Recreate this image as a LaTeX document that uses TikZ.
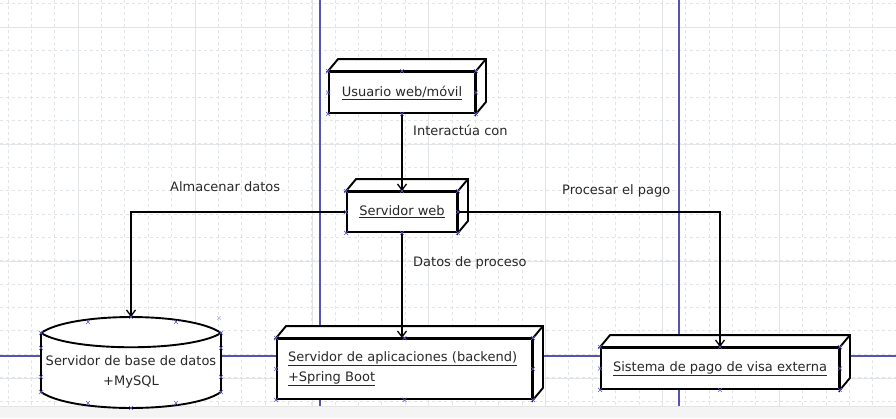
\documentclass[tikz,border=0pt]{standalone}
\usepackage{fontspec}
\setmainfont{DejaVu Sans}
\usetikzlibrary{arrows.meta,calc}
\definecolor{guide}{RGB}{85,85,175}
\definecolor{handlec}{RGB}{90,90,210}
\definecolor{gridc}{RGB}{226,229,231}
\definecolor{txt}{RGB}{40,40,40}
\tikzset{
  box3d/.style={draw=black, line width=1.9pt, fill=white, inner sep=0pt, text=txt,
    font=\fontsize{13}{20}\selectfont},
  conn/.style={draw=black, line width=1.9pt, -{Straight Barb[length=6pt,width=9pt,line width=1.3pt]}},
  lbl/.style={text=txt, anchor=west, inner sep=0pt, font=\fontsize{13}{15}\selectfont},
  guideline/.style={draw=guide, line width=1.3pt},
  gridsolid/.style={draw=gridc, line width=0.8pt},
  griddash/.style={draw=gridc, line width=0.7pt, dash pattern=on 3pt off 3pt},
}
\newcommand{\extrude}[1]{%
  \filldraw[fill=white, draw=black, line width=1.9pt, line join=miter]
    (#1.north west) -- ++(10,-12) -- ($(#1.north east)+(10,-12)$)
    -- ($(#1.south east)+(10,-12)$) -- (#1.south east) -- (#1.north east) -- cycle;
  \draw[line width=1.9pt] (#1.north east) -- ++(10,-12);
}
\newcommand{\hx}[1]{%
  \draw[handlec, line width=0.6pt] ($(#1)+(-2,-2)$) -- ($(#1)+(2,2)$)
    ($(#1)+(-2,2)$) -- ($(#1)+(2,-2)$);
}
\newcommand{\handles}[1]{%
  \foreach \a in {north west,north,north east,west,east,south west,south,south east}{\hx{#1.\a}}
}
\begin{document}
\begin{tikzpicture}[x={(1pt,0)}, y={(0,-1pt)}]
  \useasboundingbox (0,0) rectangle (896,418);
  \fill[white] (0,0) rectangle (896,418);
  % grid
  \foreach \i in {0,...,37}{
    \pgfmathsetmacro\xx{7.9+23.37*\i}
    \draw[griddash] (\xx,0) -- (\xx,406);
  }
  \foreach \j in {0,...,17}{
    \pgfmathsetmacro\yy{3.6+23.37*\j}
    \draw[griddash] (0,\yy) -- (896,\yy);
  }
  \foreach \xx in {78,195,312,428,545,662,779}{
    \draw[gridsolid] (\xx,0) -- (\xx,406);
  }
  \foreach \yy in {27,144,261,378}{
    \draw[gridsolid] (0,\yy) -- (896,\yy);
  }
  % bottom band
  \fill[gray!9] (0,406) rectangle (896,418);
  \draw[gray!22, line width=0.6pt] (0,406) -- (896,406);
  % guide lines
  \draw[guideline] (320,0) -- (320,406);
  \draw[guideline] (679,0) -- (679,406);
  \draw[guideline] (0,356) -- (896,356);

  % nodes
  \node[box3d, minimum width=146pt, minimum height=41pt] (user) at (402,92.5) {\underline{Usuario web/móvil}};
  \extrude{user}
  \node[box3d, minimum width=110pt, minimum height=40pt] (web) at (402,212) {\underline{Servidor web}};
  \extrude{web}
  \node[box3d, minimum width=255pt, minimum height=60pt, text width=233pt, inner xsep=11pt, align=left] (back) at (404.5,369)
    {\underline{Servidor de aplicaciones (backend)}\\\underline{+Spring Boot}};
  \extrude{back}
  \node[box3d, minimum width=238pt, minimum height=41pt] (visa) at (720,368.5) {\underline{Sistema de pago de visa externa}};
  \extrude{visa}

  % database shape
  \filldraw[fill=white, draw=black, line width=1.9pt]
    (41,333) .. controls (71,311.7) and (191,311.7) .. (221,333)
    -- (221,392) .. controls (191,413.3) and (71,413.3) .. (41,392) -- cycle;
  \draw[line width=1.9pt] (41,333) .. controls (71,352) and (191,352) .. (221,333);
  \coordinate (dbtop) at (131,317);
  \node[text=txt, align=center, inner sep=0pt, font=\fontsize{13}{20}\selectfont] (db) at (131,372)
    {Servidor de base de datos\\+MySQL};

  % connectors
  \draw[conn] (user.south) -- (web.north);
  \draw[conn] (web.west) -| (dbtop);
  \draw[conn] (web.south) -- (web.south |- back.north);
  \draw[conn] (web.east) -| (visa.north);

  % labels
  \node[lbl] (l1) at (413,130) {Interactúa con};
  \node[lbl] (l2) at (170,187) {Almacenar datos};
  \node[lbl] (l3) at (562,191) {Procesar el pago};
  \node[lbl] (l4) at (413,263) {Datos de proceso};

  % handles
  \handles{user}
  \handles{web}
  \handles{back}
  \handles{visa}
  \foreach \p in {(41,333),(41,348),(41,377),(41,392),(221,333),(221,348),(221,377),(221,392),(131,317),(88,322),(176,322),(131,408),(88,403),(176,403)}{
    \draw[handlec, line width=0.6pt] \p ++(-2,-2) -- ++(4,4) \p ++(-2,2) -- ++(4,-4);
  }
  \draw[handlec!50, line width=0.6pt] (217,316) -- ++(4,4) (217,320) -- ++(4,-4);
\end{tikzpicture}
\end{document}
